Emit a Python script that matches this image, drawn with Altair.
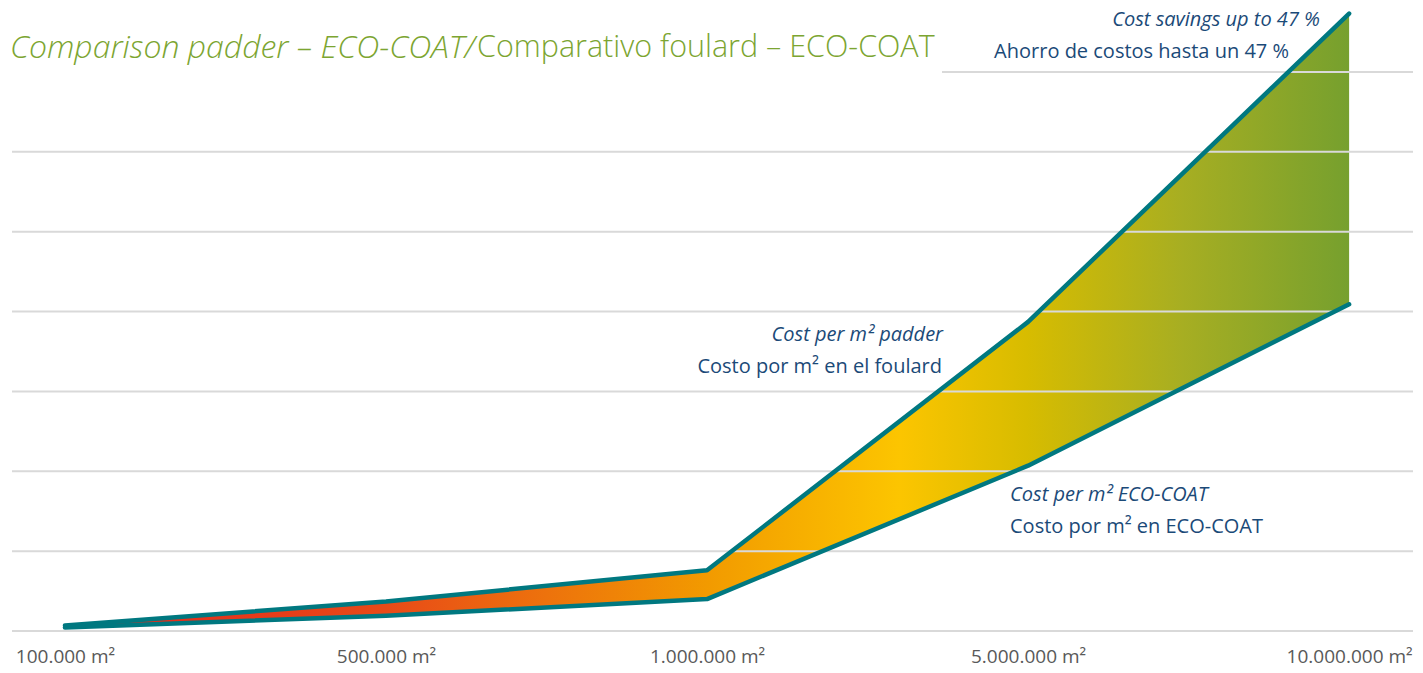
import altair as alt
import pandas as pd

# ---- data ----
categories = ["100.000 m²", "500.000 m²", "1.000.000 m²", "5.000.000 m²", "10.000.000 m²"]
cost_padder = [0.07, 0.37, 0.76, 3.87, 7.73]
cost_ecocoat = [0.045, 0.19, 0.40, 2.07, 4.09]
grid_values = [0, 1, 2, 3, 4, 5, 6, 7]

title_italic = "Comparison padder – ECO-COAT/"
title_normal = "Comparativo foulard – ECO-COAT"
note_savings_en = "Cost savings up to 47 %"
note_savings_es = "Ahorro de costos hasta un 47 %"
note_padder_en = "Cost per m² padder"
note_padder_es = "Costo por m² en el foulard"
note_eco_en = "Cost per m² ECO-COAT"
note_eco_es = "Costo por m² en ECO-COAT"

idx = list(range(len(categories)))
df_area = pd.DataFrame({"i": idx, "cat": categories, "padder": cost_padder, "eco": cost_ecocoat})
df_lines = pd.concat([
    pd.DataFrame({"i": idx, "v": cost_padder, "s": "padder"}),
    pd.DataFrame({"i": idx, "v": cost_ecocoat, "s": "eco"}),
])
df_grid = pd.DataFrame({"g": grid_values})

W, H = 1401, 623
TEAL = "#007880"
BLUE = "#1B4A78"
GREEN = "#7CA531"
FONT = "Open Sans"

label_expr = "[" + ",".join("'%s'" % c for c in categories) + "][datum.value]"

xscale = alt.Scale(domain=[-0.165, 4.199], nice=False, zero=False)
yscale = alt.Scale(domain=[0, 7.8], nice=False, zero=True)

gradient = alt.Gradient(
    gradient="linear",
    x1=0, x2=1, y1=0, y2=0,
    stops=[
        alt.GradientStop(color="#E3231B", offset=0.0),
        alt.GradientStop(color="#E84A18", offset=0.25),
        alt.GradientStop(color="#F29A00", offset=0.5),
        alt.GradientStop(color="#FCC500", offset=0.65),
        alt.GradientStop(color="#D7BC00", offset=0.75),
        alt.GradientStop(color="#A7AE22", offset=0.87),
        alt.GradientStop(color="#76A02E", offset=1.0),
    ],
)

area = alt.Chart(df_area).mark_area(color=gradient, opacity=1).encode(
    x=alt.X("i:Q", scale=xscale, title=None,
            axis=alt.Axis(values=idx, labelExpr=label_expr, grid=False, ticks=False,
                          domain=False, labelFontSize=19, labelFont=FONT,
                          labelColor="#595959", labelPadding=16, labelFlush=False)),
    y=alt.Y("eco:Q", scale=yscale, axis=None),
    y2="padder:Q",
)

grid = alt.Chart(df_grid).mark_rule(color="#D9D9D9", strokeWidth=2).encode(
    y=alt.Y("g:Q", scale=yscale, axis=None)
)

cover = alt.Chart(df_grid).mark_rect(color="white").encode(
    x=alt.value(-2), x2=alt.value(930), y=alt.value(20), y2=alt.value(70)
).transform_filter("datum.g == 0")

lines = alt.Chart(df_lines).mark_line(color=TEAL, strokeWidth=4.5, strokeCap="round",
                                      strokeJoin="round").encode(
    x=alt.X("i:Q", scale=xscale),
    y=alt.Y("v:Q", scale=yscale, axis=None),
    detail="s:N",
)


def label(text, x, y, align, italic, size=20, color=BLUE, weight="normal"):
    return alt.Chart(df_grid).transform_filter("datum.g == 0").mark_text(
        text=text, align=align, baseline="middle", font=FONT, fontSize=size,
        fontStyle="italic" if italic else "normal", color=color, fontWeight=weight,
    ).encode(x=alt.value(x), y=alt.value(y))


texts = [
    label(title_italic, -2, 40, "left", True, size=32, color=GREEN, weight=300),
    label(title_normal, 465, 40, "left", False, size=30.5, color=GREEN, weight=300),
    label(note_savings_en, 1308, 12, "right", True),
    label(note_savings_es, 1277, 44, "right", False),
    label(note_padder_en, 931, 327, "right", True),
    label(note_padder_es, 930, 359, "right", False),
    label(note_eco_en, 998, 487, "left", True),
    label(note_eco_es, 998, 519, "left", False),
]

chart = alt.layer(area, grid, cover, lines, *texts).properties(
    width=W, height=H,
    padding={"left": 2, "top": 0, "right": 0, "bottom": 12},
).configure_view(stroke=None)

chart.save("out.html", embed_options={"renderer": "svg", "actions": False})
